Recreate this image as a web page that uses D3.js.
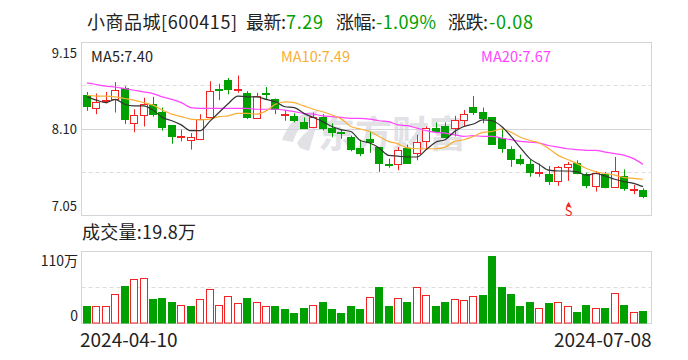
<!DOCTYPE html>
<html lang="zh-CN">
<head>
    <meta charset="UTF-8">
    <title>小商品城</title>
    <script src="https://cdn.jsdelivr.net/npm/d3@7/dist/d3.min.js"></script>
    <style>
        html, body { margin: 0; padding: 0; background: #fff; }
        text { font-family: "Noto Sans CJK SC", "Noto Sans", sans-serif; }
    </style>
</head>
<body>
<script>
    const openPrice = [8.51,8.36,8.44,8.47,8.60,8.17,8.27,8.40,8.31,8.15,8.00,7.97,7.98,8.24,8.58,8.70,8.57,8.54,8.23,8.54,8.46,8.27,8.26,8.19,8.12,8.24,8.11,8.06,8.00,7.87,7.98,7.88,7.68,7.68,7.87,7.81,7.96,8.11,8.14,8.11,8.21,8.37,8.31,8.24,7.99,7.86,7.74,7.68,7.57,7.55,7.47,7.64,7.69,7.55,7.41,7.55,7.39,7.53,7.36,7.36];
    const closePrice = [8.38,8.43,8.45,8.57,8.22,8.27,8.40,8.28,8.12,8.01,8.01,8.00,8.22,8.56,8.57,8.58,8.58,8.24,8.50,8.52,8.34,8.28,8.21,8.11,8.25,8.11,8.06,8.05,7.86,7.81,7.94,7.69,7.67,7.84,7.69,7.94,8.11,8.07,8.00,8.21,8.28,8.31,8.23,7.92,7.87,7.74,7.69,7.58,7.58,7.47,7.64,7.68,7.56,7.42,7.56,7.40,7.59,7.38,7.37,7.29];
    const lowPrice = [8.32,8.28,8.41,8.30,8.16,8.06,8.13,8.25,8.08,7.92,7.95,7.85,7.98,8.23,8.45,8.52,8.54,8.22,8.23,8.46,8.28,8.20,8.18,8.11,8.12,8.08,8.00,7.98,7.83,7.77,7.81,7.58,7.63,7.60,7.68,7.72,7.85,8.05,7.99,8.01,8.13,8.27,8.17,7.92,7.81,7.64,7.66,7.52,7.52,7.42,7.41,7.47,7.55,7.38,7.34,7.38,7.39,7.35,7.31,7.26];
    const highPrice = [8.55,8.53,8.55,8.67,8.62,8.34,8.48,8.49,8.36,8.15,8.09,8.05,8.28,8.68,8.65,8.72,8.75,8.56,8.54,8.61,8.47,8.33,8.29,8.24,8.30,8.28,8.17,8.10,8.02,7.97,8.07,7.88,7.74,7.88,7.91,8.03,8.13,8.18,8.18,8.26,8.33,8.50,8.36,8.24,8.10,7.89,7.79,7.73,7.68,7.65,7.65,7.70,7.72,7.57,7.59,7.58,7.76,7.61,7.42,7.38];

    const ma5 = [8.49,8.45,8.42,8.46,8.40,8.38,8.38,8.33,8.24,8.20,8.15,8.08,8.08,8.19,8.30,8.41,8.50,8.49,8.49,8.46,8.43,8.37,8.36,8.29,8.24,8.19,8.13,8.09,8.07,7.96,7.93,7.87,7.78,7.77,7.76,7.76,7.85,7.94,7.97,8.07,8.13,8.16,8.21,8.20,8.13,8.01,7.87,7.74,7.67,7.60,7.59,7.59,7.58,7.54,7.56,7.53,7.49,7.46,7.44,7.40];
    const ma10 = [8.51,8.50,8.50,8.49,8.47,8.45,8.42,8.39,8.33,8.28,8.25,8.22,8.21,8.22,8.25,8.26,8.29,8.29,8.28,8.32,8.40,8.43,8.42,8.38,8.34,8.31,8.27,8.22,8.13,8.10,8.07,8.01,7.95,7.92,7.87,7.86,7.86,7.86,7.88,7.95,7.97,8.01,8.06,8.07,8.10,8.06,8.00,7.96,7.93,7.86,7.78,7.73,7.68,7.62,7.58,7.56,7.54,7.51,7.50,7.49];
    const ma20 = [8.66,8.64,8.62,8.61,8.59,8.57,8.55,8.53,8.49,8.46,8.42,8.36,8.35,8.35,8.35,8.35,8.35,8.35,8.34,8.34,8.34,8.33,8.31,8.29,8.28,8.26,8.25,8.24,8.23,8.23,8.22,8.20,8.19,8.15,8.14,8.11,8.08,8.06,8.05,8.03,8.01,8.02,8.01,8.01,7.99,7.97,7.95,7.94,7.93,7.90,7.88,7.86,7.85,7.84,7.84,7.82,7.80,7.78,7.74,7.67];

    // 万手
    const volume = [27.5,27.5,27.5,45.3,58,68.2,69.8,36.7,38.2,33.6,28.5,27.5,37.7,53,28.5,42.3,31.6,38.2,33.1,27,27.5,22.9,16.8,24.4,28.5,32.1,21.4,16.8,26,22.9,40.7,56.5,26,39.2,32.1,56,43.8,27.5,32.1,37.7,36.2,42.3,42.8,102.4,56.5,45.8,26,32.1,23.9,30.6,33.1,27,18.3,29,23.9,24.4,46.9,29,17.8,19.8];
    const volumeUp = [0,1,1,1,0,1,1,0,0,0,1,0,1,1,1,1,1,0,1,1,0,0,0,0,1,0,0,0,0,0,1,0,0,1,0,1,1,0,0,1,1,1,0,0,0,0,0,0,1,0,1,1,0,0,1,0,1,0,1,0];

    const priceTicks = [9.15, 8.10, 7.05];
    const priceGridSolid = [8.10];
    const priceGridDashed = [8.625, 7.575];
    const volumeTicks = ["110万", "0"];
    const dateLabels = ["2024-04-10", "2024-07-08"];
    const sellIndex = [51];

    const red = "#f42222", green = "#00a000";
    const frameColor = "#d3d3da", dashColor = "#dcdcdc";

    const svg = d3.select("body").append("svg")
        .attr("width", 688)
        .attr("height", 360)
        .style("display", "block");

    const box = {left: 81.5, right: 651.5, top: 42.5, bottom: 215.5, volTop: 251.5, volBottom: 323.5};

    const x = d3.scaleBand().domain(d3.range(openPrice.length)).range([82.3, 647.7]);
    const y = d3.scaleLinear().domain([7.05, 9.15]).range([box.bottom, box.top]);
    const yVol = d3.scaleLinear().domain([0, 110]).range([box.volBottom, box.volTop]);
    const cx = i => Math.round(x(i) + x.bandwidth() / 2);
    const crisp = v => Math.round(v) + 0.5;

    // 标题
    const titleParts = [
        {t: "小商品城[600415]", x: 87, w: 150, c: "#222"},
        {t: "最新:", x: 246, w: 40, c: "#222"},
        {t: "7.29", x: 286, w: 37, c: green},
        {t: "涨幅:", x: 336, w: 40, c: "#222"},
        {t: "-1.09%", x: 376, w: 60, c: green},
        {t: "涨跌:", x: 448, w: 40, c: "#222"},
        {t: "-0.08", x: 489, w: 44, c: green}
    ];
    svg.selectAll("text.title").data(titleParts).join("text")
        .attr("class", "title")
        .attr("x", d => d.x).attr("y", 29)
        .attr("font-size", 18)
        .attr("textLength", d => d.w)
        .attr("fill", d => d.c)
        .text(d => d.t);

    // 水印
    const mark = svg.append("g").attr("fill", "#e1e1e6");
    mark.append("text").attr("x", 318).attr("y", 148)
        .attr("font-size", 37).attr("font-weight", 700).text("东方财富");
    mark.append("path")
        .attr("d", "M282 140 C290 120 300 112 318 111 L312 122 C303 123 297 129 293 142 Z M297 143 C303 134 309 129 316 127 L309 151 L300 148 Z");

    // K线框
    svg.append("rect")
        .attr("x", box.left).attr("y", box.top)
        .attr("width", box.right - box.left).attr("height", box.bottom - box.top)
        .attr("fill", "none").attr("stroke", frameColor);
    svg.selectAll("line.solid").data(priceGridSolid).join("line")
        .attr("class", "solid")
        .attr("x1", box.left).attr("x2", box.right)
        .attr("y1", d => crisp(y(d) - 0.5)).attr("y2", d => crisp(y(d) - 0.5))
        .attr("stroke", frameColor);
    svg.selectAll("line.dash").data(priceGridDashed).join("line")
        .attr("class", "dash")
        .attr("x1", box.left).attr("x2", box.right)
        .attr("y1", d => crisp(y(d) - 0.5)).attr("y2", d => crisp(y(d) - 0.5))
        .attr("stroke", dashColor).attr("stroke-dasharray", "4,3");

    svg.selectAll("text.pt").data(priceTicks).join("text")
        .attr("class", "pt")
        .attr("x", 77)
        .attr("y", (d, i) => y(d) + [15, 5, -5][i])
        .attr("text-anchor", "end").attr("font-size", 13).attr("fill", "#222")
        .text(d => d3.format(".2f")(d));

    // 蜡烛
    const idx = d3.range(openPrice.length);
    svg.append("g").selectAll("g").data(idx).join("g")
        .each(function (i) {
            const up = closePrice[i] >= openPrice[i];
            const col = up ? red : green;
            const g = d3.select(this);
            const top = Math.round(y(Math.max(openPrice[i], closePrice[i])));
            const bot = Math.round(y(Math.min(openPrice[i], closePrice[i])));
            g.append("line")
                .attr("x1", cx(i) + 0.5).attr("x2", cx(i) + 0.5)
                .attr("y1", y(highPrice[i])).attr("y2", y(lowPrice[i]))
                .attr("stroke", col).attr("stroke-width", 1);
            g.append("rect")
                .attr("x", cx(i) - 3.5).attr("y", top + 0.5)
                .attr("width", 7).attr("height", Math.max(bot - top, 1))
                .attr("fill", up ? "#fff" : green)
                .attr("stroke", col).attr("stroke-width", 1);
        });

    // 均线
    const line = d3.line().x((d, i) => x(i) + x.bandwidth() / 2).y(d => y(d)).curve(d3.curveMonotoneX);
    const maLines = [{v: ma20, c: "#ff44ff"}, {v: ma10, c: "#f9ae35"}, {v: ma5, c: "#333"}];
    svg.selectAll("path.ma").data(maLines).join("path")
        .attr("class", "ma")
        .attr("d", d => line(d.v))
        .attr("fill", "none").attr("stroke", d => d.c).attr("stroke-width", 1.2);

    const maLabels = [
        {t: "MA5:7.40", x: 91, w: 62, c: "#222"},
        {t: "MA10:7.49", x: 281, w: 69, c: "#f9ae35"},
        {t: "MA20:7.67", x: 481, w: 70, c: "#ff44ff"}
    ];
    svg.selectAll("text.malab").data(maLabels).join("text")
        .attr("class", "malab")
        .attr("x", d => d.x).attr("y", 62)
        .attr("font-size", 14.5).attr("textLength", d => d.w).attr("fill", d => d.c)
        .text(d => d.t);

    // 卖出标记
    const sell = svg.append("g").selectAll("g").data(sellIndex).join("g")
        .attr("transform", d => `translate(${cx(d) + 0.5},0)`)
        .attr("fill", red);
    sell.append("path").attr("d", d3.symbol(d3.symbolTriangle, 12)).attr("transform", "translate(0,205)");
    sell.append("text").attr("y", 216).attr("text-anchor", "middle")
        .attr("font-size", 13).text("S");

    // 成交量
    svg.append("text").attr("x", 82).attr("y", 239)
        .attr("font-size", 18).attr("textLength", 114).attr("fill", "#222").text("成交量:19.8万");

    svg.append("rect")
        .attr("x", box.left).attr("y", box.volTop)
        .attr("width", box.right - box.left).attr("height", box.volBottom - box.volTop)
        .attr("fill", "none").attr("stroke", frameColor);
    svg.append("line")
        .attr("x1", box.left).attr("x2", box.right)
        .attr("y1", crisp(yVol(55) - 0.5)).attr("y2", crisp(yVol(55) - 0.5))
        .attr("stroke", dashColor).attr("stroke-dasharray", "4,3");

    svg.selectAll("rect.vol").data(volume).join("rect")
        .attr("class", "vol")
        .attr("x", (d, i) => cx(i) - 3.5)
        .attr("y", d => Math.round(yVol(d)) + 0.5)
        .attr("width", 7)
        .attr("height", d => box.volBottom - Math.round(yVol(d)) - 1)
        .attr("fill", (d, i) => volumeUp[i] ? "#fff" : green)
        .attr("stroke", (d, i) => volumeUp[i] ? red : green)
        .attr("stroke-width", 1);

    svg.selectAll("text.vt").data(volumeTicks).join("text")
        .attr("class", "vt")
        .attr("x", 78)
        .attr("y", (d, i) => [266, 321][i])
        .attr("text-anchor", "end").attr("font-size", 14).attr("fill", "#222")
        .text(d => d);

    svg.selectAll("text.date").data(dateLabels).join("text")
        .attr("class", "date")
        .attr("x", (d, i) => i ? box.right : 80)
        .attr("y", 347)
        .attr("text-anchor", (d, i) => i ? "end" : "start")
        .attr("font-size", 19).attr("fill", "#222")
        .text(d => d);
</script>
</body>
</html>
